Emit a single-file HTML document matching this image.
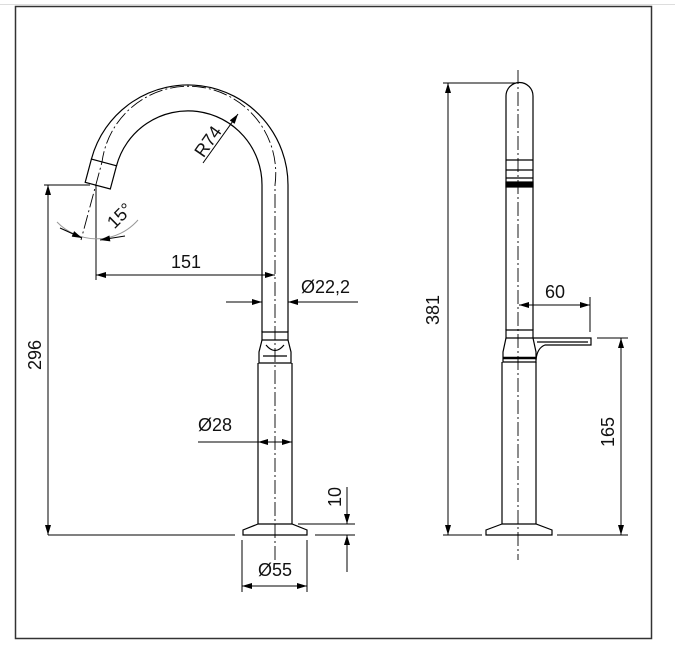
<!DOCTYPE html>
<html><head><meta charset="utf-8"><style>
html,body{margin:0;padding:0;background:#fff;}
svg{display:block;}
text{font-family:"Liberation Sans",Arial,sans-serif;font-size:18px;fill:#111;}
</style></head><body>
<svg width="675" height="648" viewBox="0 0 675 648" xmlns="http://www.w3.org/2000/svg">
<defs>
<marker id="a" viewBox="0 0 10 6" refX="10" refY="3" markerWidth="12" markerHeight="6" markerUnits="userSpaceOnUse" orient="auto-start-reverse"><path d="M0,0 L10,3 L0,6 Z" fill="#000"/></marker>
</defs>
<line x1="0" y1="4.5" x2="675" y2="4.5" stroke="#ddd" stroke-width="1"/>
<rect x="15.5" y="6.5" width="636" height="632" fill="none" stroke="#333" stroke-width="1.5"/>
<g stroke="#000" stroke-width="1.2" fill="none">
<path d="M288,332 L288,185 A100,100 0 0 0 91.4,159.1"/>
<path d="M262,332 L262,185 A74,74 0 0 0 116.5,165.8"/>
<path d="M91.4,159.1 L116.5,165.8 L110.3,189 L85.2,182.3 Z"/>
<path d="M275,560 L275,185 A87,87 0 0 0 102,162 L81,240" stroke-dasharray="14,3,2,3" stroke-width="0.9"/>
<path d="M262,332 L288,332 L288,340 L262,340 Z"/>
<path d="M262,340 L259,352 L259,363 L291,363 L291,352 L288,340"/>
<path d="M266,345 Q275,356 284,345 M263,356 L287,356"/>
<path d="M258,363 L258,524 M292,363 L292,524"/>
<path d="M258,524 L243,530 L243,535 L307,535 L307,530 L292,524 Z"/>
<line x1="96" y1="185" x2="96" y2="280" stroke-width="1"/>
<line x1="96" y1="275" x2="275" y2="275" marker-start="url(#a)" marker-end="url(#a)" stroke-width="1"/>
<line x1="226" y1="302" x2="262" y2="302" marker-end="url(#a)" stroke-width="1"/>
<line x1="358" y1="302" x2="288" y2="302" marker-end="url(#a)" stroke-width="1"/>
<line x1="203" y1="163" x2="238" y2="114" marker-end="url(#a)" stroke-width="1"/>
<path d="M57,222 A55,55 0 0 0 138,220" stroke="#999" stroke-width="1"/>
<line x1="60" y1="228" x2="82" y2="238" marker-end="url(#a)" stroke-width="1"/>
<line x1="125" y1="236" x2="100" y2="240" marker-end="url(#a)" stroke-width="1"/>
<line x1="198" y1="442" x2="292" y2="442" stroke-width="1"/>
<line x1="275" y1="442" x2="258" y2="442" marker-end="url(#a)" stroke-width="1"/>
<line x1="275" y1="442" x2="292" y2="442" marker-end="url(#a)" stroke-width="1"/>
<line x1="242" y1="540" x2="242" y2="592" stroke-width="1"/>
<line x1="307" y1="540" x2="307" y2="592" stroke-width="1"/>
<line x1="242" y1="586" x2="307" y2="586" marker-start="url(#a)" marker-end="url(#a)" stroke-width="1"/>
<line x1="44" y1="185" x2="90" y2="185" stroke-width="1"/>
<line x1="48" y1="535" x2="235" y2="535" stroke-width="1"/>
<line x1="315" y1="535" x2="355" y2="535" stroke-width="1"/>
<line x1="298" y1="524" x2="355" y2="524" stroke-width="1"/>
<line x1="48" y1="185" x2="48" y2="535" marker-start="url(#a)" marker-end="url(#a)" stroke-width="1"/>
<line x1="347" y1="487" x2="347" y2="524" marker-end="url(#a)" stroke-width="1"/>
<line x1="347" y1="572" x2="347" y2="535" marker-end="url(#a)" stroke-width="1"/>
<path d="M506,330 L506,96 A13.5,13.5 0 0 1 533,96 L533,330"/>
<path d="M506,160 L533,160 M506,170 L533,170 M506,178 L533,178"/>
<rect x="506" y="182" width="27" height="5" fill="#000"/>
<path d="M506,330 L533,330 L533,338 L506,338 Z"/>
<path d="M506,338 L503,352 L503,362 L536,362 L536,352 L533,338"/>
<line x1="503" y1="358" x2="536" y2="358" stroke-width="2.5"/>
<path d="M502,362 L502,524 M536,362 L536,524"/>
<path d="M502,524 L486,530 L486,535 L552,535 L552,530 L536,524 Z"/>
<path d="M533,338 L591,338 L591,345 L545,345 Q537,348 536,360"/>
<path d="M537,342 L588,342"/>
<line x1="518" y1="70" x2="518" y2="560" stroke-dasharray="14,3,2,3" stroke-width="0.9"/>
<line x1="443" y1="83" x2="515" y2="83" stroke-width="1"/>
<line x1="443" y1="535" x2="482" y2="535" stroke-width="1"/>
<line x1="448" y1="83" x2="448" y2="535" marker-start="url(#a)" marker-end="url(#a)" stroke-width="1"/>
<line x1="590" y1="297" x2="590" y2="332" stroke-width="1"/>
<line x1="519" y1="305" x2="590" y2="305" marker-start="url(#a)" marker-end="url(#a)" stroke-width="1"/>
<line x1="597" y1="338" x2="628" y2="338" stroke-width="1"/>
<line x1="557" y1="535" x2="628" y2="535" stroke-width="1"/>
<line x1="621" y1="338" x2="621" y2="535" marker-start="url(#a)" marker-end="url(#a)" stroke-width="1"/>
</g>
<text x="186" y="268" text-anchor="middle">151</text>
<text x="301" y="293">Ø22,2</text>
<text x="198" y="431">Ø28</text>
<text x="275" y="576" text-anchor="middle">Ø55</text>
<text transform="translate(213,145) rotate(-55)" text-anchor="middle">R74</text>
<text transform="translate(124,220) rotate(-45)" text-anchor="middle">15°</text>
<text transform="translate(41,355) rotate(-90)" text-anchor="middle">296</text>
<text transform="translate(341,497) rotate(-90)" text-anchor="middle">10</text>
<text transform="translate(439,310) rotate(-90)" text-anchor="middle">381</text>
<text x="555" y="298" text-anchor="middle">60</text>
<text transform="translate(614,432) rotate(-90)" text-anchor="middle">165</text>
</svg>
</body></html>
